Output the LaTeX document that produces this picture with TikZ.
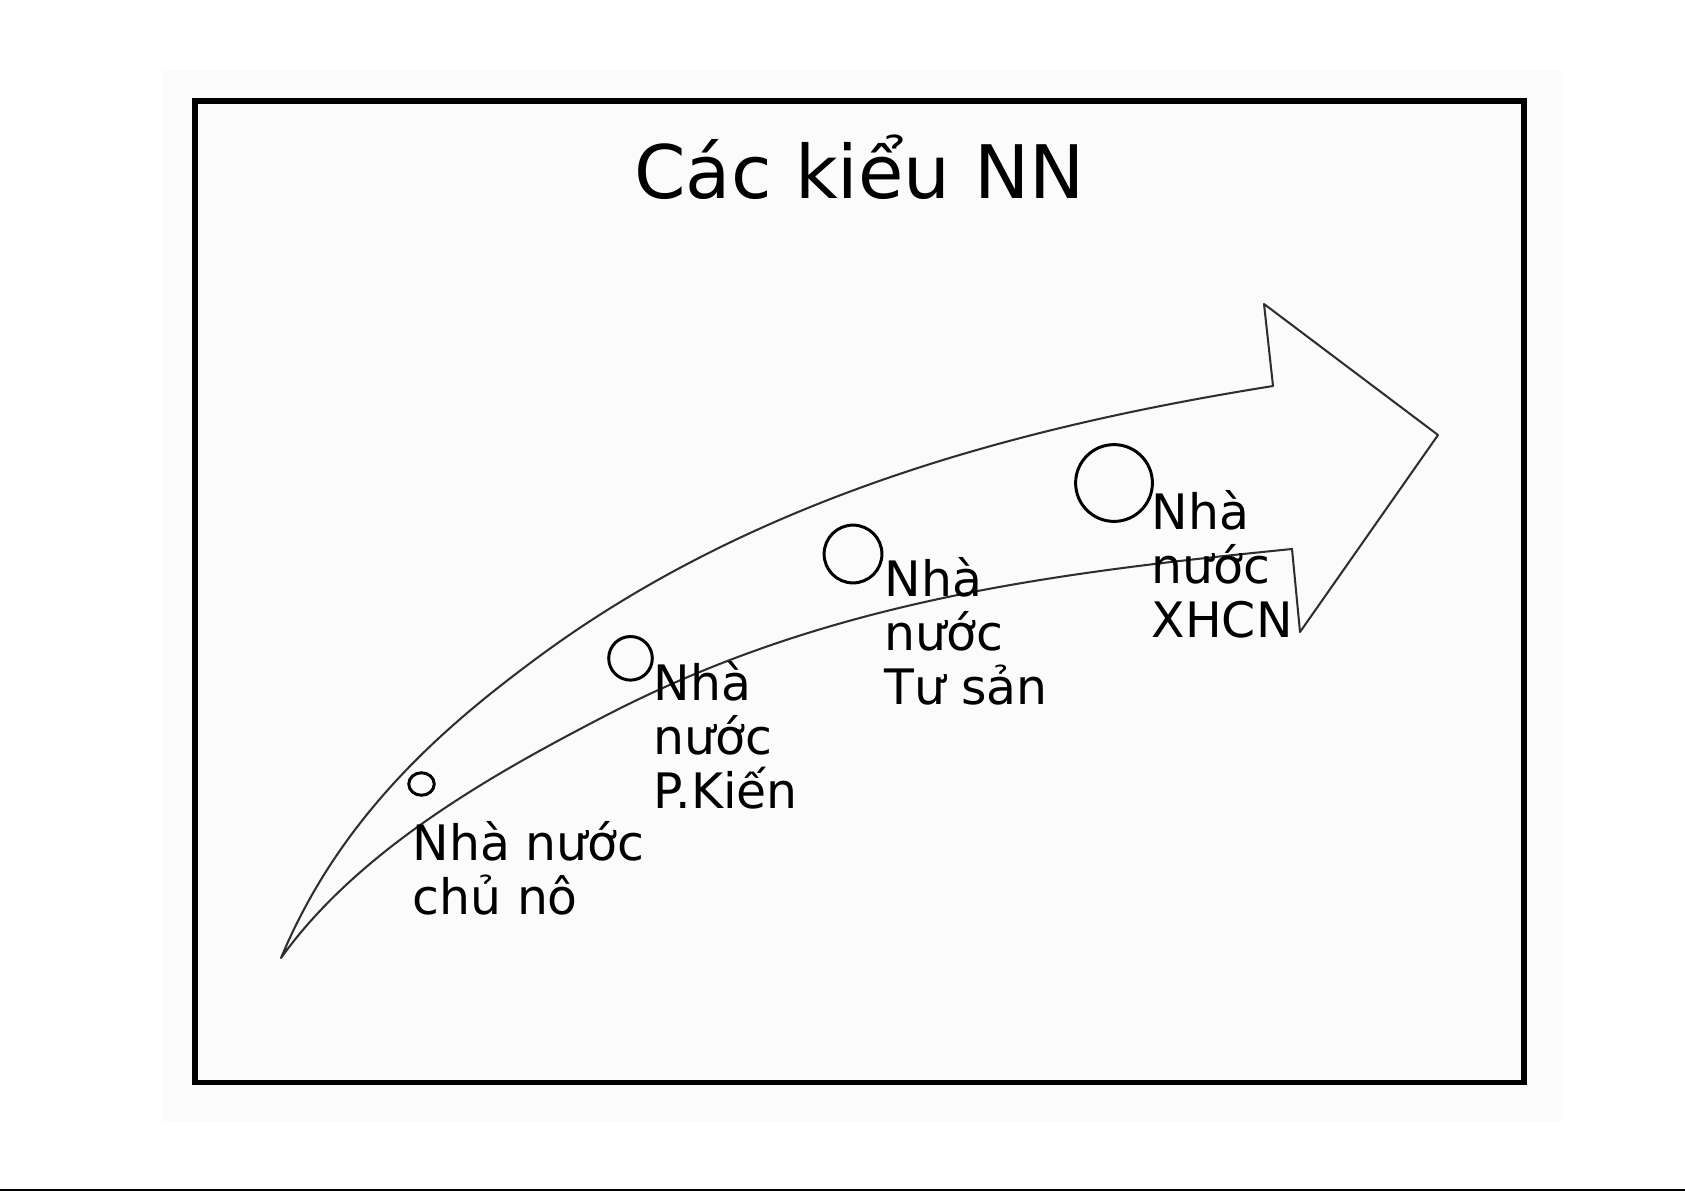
\documentclass[tikz,border=0pt]{standalone}
\usepackage{fontspec}
\setmainfont{DejaVu Sans}
\usetikzlibrary{shapes.geometric}
\tikzset{
  lbl/.style={anchor=base west, inner sep=0pt, align=left,
    font=\fontsize{13.9pt}{15.3pt}\selectfont},
  stage/.style={draw=black, line width=0.85pt, inner sep=0pt},
  arrowline/.style={draw=black!82, line width=0.58pt, line join=round},
  frameline/.style={draw=black, line width=1.56pt},
}
\begin{document}
\begin{tikzpicture}[x=0.1mm, y=-0.1mm]
\useasboundingbox (0,0) rectangle (1685,1191);
\fill[white] (0,0) rectangle (1685,1191);
\fill[black!1.5] (163,70) rectangle (1562,1122);
\fill[black] (0,1188.6) rectangle (1685,1191);
% frame
\draw[frameline] (195,101) rectangle (1524,1082.5);
% title
\node[anchor=base, inner sep=0pt, font=\fontsize{21pt}{25pt}\selectfont] (title) at (859.5,198) {Các kiểu NN};
% curved arrow (outline)
\coordinate (tail) at (281,958);
\coordinate (notchtop) at (1273,386);
\coordinate (headtop) at (1264,304);
\coordinate (tip) at (1438,435);
\coordinate (headbot) at (1300,632);
\coordinate (notchbot) at (1292,549);
\draw[arrowline] (tail)
  .. controls (341,814) and (447,724.6) .. (537,658)
  .. controls (757,495.2) and (1023,426) .. (notchtop)
  -- (headtop) -- (tip) -- (headbot) -- (notchbot)
  .. controls (1042,574) and (823,602.6) .. (603,717)
  .. controls (503,769) and (361,846) .. (tail) -- cycle;
% stage circles
\node[stage, ellipse, minimum width=2.55mm, minimum height=2.25mm] (c1) at (421.5,784) {};
\node[stage, circle, minimum size=4.36mm] (c2) at (630.5,658.3) {};
\node[stage, circle, minimum size=5.78mm] (c3) at (853,554) {};
\node[stage, circle, minimum size=7.68mm] (c4) at (1114,483) {};
% labels (anchored at the baseline of the last line)
\node[lbl] (l1) at (412,914) {Nhà nước\\chủ nô};
\node[lbl] (l2) at (653,808.5) {Nhà\\nước\\P.Kiến};
\node[lbl] (l3) at (884,704) {Nhà\\nước\\Tư sản};
\node[lbl] (l4) at (1151,637) {Nhà\\nước\\XHCN};
\end{tikzpicture}
\end{document}
